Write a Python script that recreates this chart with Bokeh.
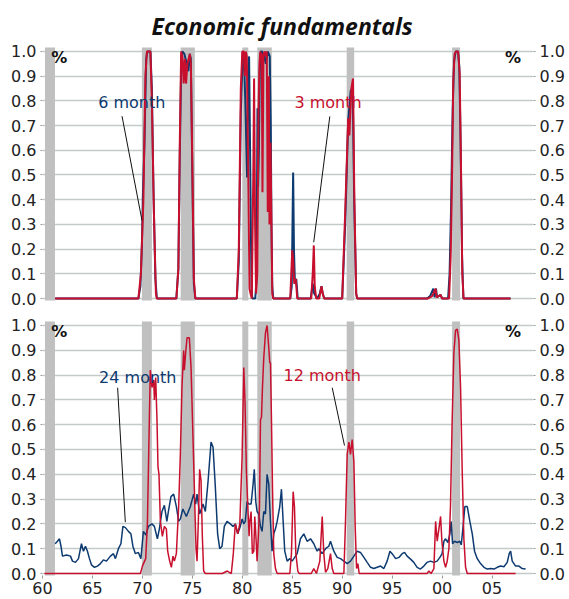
from bokeh.plotting import figure
from bokeh.layouts import column
from bokeh.models import LinearAxis, FixedTicker, PrintfTickFormatter, Label, Range1d
from bokeh.embed import file_html
from bokeh.resources import INLINE

# ---------------- data ----------------
recession_start = [1960.25, 1969.95, 1973.83, 1980.0, 1981.5, 1990.45, 2001.0]
recession_end = [1961.25, 1970.95, 1975.25, 1980.6, 1982.95, 1991.2, 2001.8]

x_ticks = [1960, 1965, 1970, 1975, 1980, 1985, 1990, 1995, 2000, 2005]
x_tick_labels = ["60", "65", "70", "75", "80", "85", "90", "95", "00", "05"]
y_ticks = [0.0, 0.1, 0.2, 0.3, 0.4, 0.5, 0.6, 0.7, 0.8, 0.9, 1.0]

# top panel: 6 month (blue)
m6_x = [1961.27, 1969.6, 1969.8, 1969.95, 1970.05, 1970.2, 1970.38, 1970.5, 1970.8, 1970.95, 1971.1, 1971.3, 1971.45,
        1973.4, 1973.6, 1973.75, 1973.9, 1974.0, 1974.2, 1974.45, 1974.6, 1974.75, 1974.85, 1975.0, 1975.15, 1975.3,
        1979.45, 1979.65, 1979.85, 1980.05, 1980.15, 1980.3, 1980.48, 1980.58, 1980.68, 1980.78, 1980.92, 1981.0,
        1981.3, 1981.42, 1981.52, 1981.58, 1981.66, 1981.75, 1981.85, 1982.0, 1982.1, 1982.2, 1982.35, 1982.55,
        1982.75, 1982.85, 1982.92, 1983.0, 1983.1,
        1984.8, 1984.95, 1985.09, 1985.17, 1985.27, 1985.4, 1985.55,
        1986.85, 1987.05, 1987.2, 1987.5, 1987.75, 1987.93, 1988.05, 1988.2,
        1990.0, 1990.3, 1990.6, 1990.85, 1991.05, 1991.2, 1991.4, 1991.5,
        1998.5, 1998.8, 1999.12, 1999.25, 1999.39, 1999.5, 1999.85, 2000.0,
        2000.6, 2000.75, 2000.9, 2001.06, 2001.2, 2001.36, 2001.6, 2001.72, 2001.85, 2002.0, 2002.13, 2006.85]
m6_y = [0, 0, 0.05, 0.22, 0.42, 0.62, 0.97, 1.0, 1.0, 0.85, 0.45, 0.08, 0,
        0, 0.12, 0.6, 0.98, 1.0, 0.99, 0.95, 0.92, 0.99, 0.97, 0.5, 0.06, 0,
        0, 0.15, 0.75, 1.0, 0.99, 0.8, 0.49, 0.85, 0.98, 0.6, 0.05, 0,
        0, 0.08, 0.77, 0.45, 0.6, 0.92, 1.0, 1.0, 0.96, 0.99, 0.95, 1.0,
        0.98, 0.7, 0.3, 0.05, 0,
        0, 0.05, 0.51, 0.2, 0.06, 0.08, 0,
        0, 0.06, 0.02, 0, 0.02, 0.05, 0.02, 0,
        0, 0.3, 0.72, 0.84, 0.85, 0.4, 0.02, 0,
        0, 0.01, 0.04, 0.005, 0.04, 0.005, 0.015, 0,
        0, 0.1, 0.37, 0.77, 0.96, 1.0, 1.0, 0.94, 0.64, 0.17, 0, 0]

# top panel: 3 month (red)
m3_x = [1961.27, 1969.6, 1969.85, 1969.95, 1970.1, 1970.3, 1970.45, 1970.8, 1970.95, 1971.15, 1971.35, 1971.45,
        1973.4, 1973.6, 1973.75, 1973.88, 1974.0, 1974.13, 1974.25, 1974.37, 1974.5, 1974.75, 1974.85, 1975.0,
        1975.15, 1975.3,
        1979.45, 1979.65, 1979.85, 1980.0, 1980.15, 1980.25, 1980.35, 1980.45, 1980.6, 1980.72, 1980.82, 1980.95,
        1981.1, 1981.18, 1981.28, 1981.38, 1981.5, 1981.62, 1981.72, 1981.8, 1981.95, 1982.02, 1982.12, 1982.25,
        1982.35, 1982.45, 1982.55, 1982.65, 1982.72, 1982.82, 1982.92, 1983.0, 1983.1,
        1984.8, 1985.0, 1985.1, 1985.2, 1985.35, 1985.5,
        1986.9, 1987.05, 1987.16, 1987.25, 1987.4, 1987.7, 1987.93, 1988.05, 1988.2,
        1990.0, 1990.3, 1990.6, 1990.72, 1990.92, 1991.08, 1991.22, 1991.4, 1991.5,
        1998.6, 1999.0, 1999.35, 1999.45, 1999.85, 2000.0,
        2000.7, 2000.86, 2001.0, 2001.12, 2001.25, 2001.39, 2001.6, 2001.76, 2001.9, 2002.02, 2002.15, 2006.85]
m3_y = [0, 0, 0.1, 0.22, 0.4, 0.9, 1.0, 1.0, 0.8, 0.35, 0.02, 0,
        0, 0.12, 0.65, 1.0, 0.98, 0.87, 0.97, 0.87, 0.95, 0.99, 0.95, 0.55,
        0.08, 0,
        0, 0.2, 0.85, 1.0, 1.0, 0.9, 1.0, 0.98, 0.5, 0.04, 0.02, 0,
        0.5, 0.89, 0.3, 0.02, 0.1, 0.76, 0.95, 1.0, 0.98, 0.43, 0.99, 1.0,
        0.98, 1.0, 0.35, 0.9, 0.3, 0.63, 0.3, 0.02, 0,
        0, 0.195, 0.15, 0.06, 0.08, 0,
        0, 0.1, 0.215, 0.05, 0, 0, 0.05, 0.02, 0,
        0, 0.35, 0.73, 0.66, 0.85, 0.89, 0.4, 0.02, 0,
        0, 0.01, 0.04, 0.005, 0.015, 0,
        0, 0.17, 0.51, 0.88, 0.99, 1.0, 1.0, 0.91, 0.51, 0.1, 0, 0]

# bottom panel: 24 month (blue)
m24_x = [1961.27, 1961.5, 1961.7, 1961.85, 1962.0, 1962.4, 1962.8, 1963.0, 1963.3, 1963.6, 1963.9, 1964.1, 1964.3,
         1964.5, 1964.7, 1964.9, 1965.2, 1965.5, 1965.8, 1966.1, 1966.4, 1966.8, 1967.1, 1967.3, 1967.6, 1967.85,
         1968.05, 1968.3, 1968.6, 1968.85, 1969.05, 1969.3, 1969.6, 1969.85, 1970.1, 1970.35, 1970.6, 1970.95,
         1971.2, 1971.5, 1971.7, 1971.96, 1972.2, 1972.45, 1972.6, 1972.86, 1973.13, 1973.4, 1973.63, 1973.8,
         1974.05, 1974.4, 1974.8, 1975.13, 1975.33, 1975.47, 1975.73, 1976.07, 1976.3, 1976.57, 1976.87, 1977.07,
         1977.3, 1977.53, 1977.74, 1977.97, 1978.2, 1978.47, 1978.8, 1979.07, 1979.3, 1979.54, 1979.8, 1979.98,
         1980.15, 1980.3, 1980.48, 1980.65, 1980.88, 1981.08, 1981.2, 1981.35, 1981.48, 1981.65, 1981.82, 1981.98,
         1982.15, 1982.32, 1982.48, 1982.65, 1982.82, 1982.98, 1983.15, 1983.32, 1983.49, 1983.75, 1983.92, 1984.09,
         1984.25, 1984.49, 1984.76, 1984.99, 1985.16, 1985.49, 1985.82, 1986.16, 1986.49, 1986.83, 1987.16, 1987.49,
         1987.66, 1987.99, 1988.33, 1988.66, 1988.83, 1989.16, 1989.5, 1989.83, 1990.17, 1990.5, 1990.83, 1991.17,
         1991.5, 1991.83, 1992.17, 1992.5, 1992.84, 1993.17, 1993.5, 1993.84, 1994.17, 1994.5, 1994.78, 1995.0,
         1995.35, 1995.68, 1996.0, 1996.24, 1996.5, 1996.84, 1997.17, 1997.5, 1997.84, 1998.17, 1998.5, 1998.84,
         1999.17, 1999.5, 1999.78, 2000.0, 2000.18, 2000.35, 2000.58, 2000.78, 2000.91, 2001.05, 2001.25, 2001.52,
         2001.78, 2001.92, 2002.1, 2002.28, 2002.52, 2002.78, 2003.02, 2003.25, 2003.52, 2003.85, 2004.19, 2004.52,
         2004.85, 2005.19, 2005.52, 2005.85, 2006.19, 2006.52, 2006.72, 2006.86, 2007.02, 2007.36, 2007.69, 2008.02,
         2008.36]
m24_y = [0.12, 0.13, 0.14, 0.11, 0.07, 0.075, 0.07, 0.05, 0.045, 0.06, 0.12, 0.09, 0.11,
         0.09, 0.06, 0.035, 0.025, 0.03, 0.04, 0.055, 0.05, 0.07, 0.08, 0.06, 0.1, 0.12,
         0.19, 0.185, 0.17, 0.16, 0.11, 0.08, 0.085, 0.06, 0.17, 0.155, 0.19, 0.2,
         0.19, 0.14, 0.18, 0.25, 0.275, 0.21, 0.25, 0.31, 0.32, 0.27, 0.21, 0.22,
         0.26, 0.23, 0.27, 0.32, 0.28, 0.32, 0.24, 0.28, 0.25, 0.37, 0.53, 0.51,
         0.35, 0.16, 0.1, 0.11, 0.19, 0.21, 0.2, 0.19, 0.2, 0.16, 0.19, 0.22,
         0.2, 0.21, 0.29, 0.28, 0.28, 0.36, 0.42, 0.29, 0.25, 0.24, 0.19, 0.17,
         0.25, 0.24, 0.4, 0.36, 0.21, 0.09, 0.16, 0.18, 0.21, 0.27, 0.34, 0.21,
         0.09, 0.05, 0.06, 0.05, 0.06, 0.08, 0.14, 0.16, 0.13, 0.14, 0.12, 0.09,
         0.1, 0.08, 0.1, 0.11, 0.13, 0.09, 0.065, 0.06, 0.05, 0.04, 0.05, 0.07,
         0.09, 0.085, 0.065, 0.045, 0.025, 0.02, 0.025, 0.03, 0.02, 0.05, 0.09, 0.08,
         0.06, 0.065, 0.08, 0.085, 0.07, 0.058, 0.045, 0.025, 0.018, 0.03, 0.045, 0.05,
         0.045, 0.05, 0.065, 0.08, 0.13, 0.14, 0.125, 0.16, 0.21, 0.12, 0.13, 0.125,
         0.13, 0.115, 0.19, 0.27, 0.27, 0.21, 0.16, 0.09, 0.06, 0.04, 0.025, 0.018,
         0.02, 0.018, 0.025, 0.03, 0.027, 0.045, 0.08, 0.09, 0.05, 0.03, 0.03, 0.02,
         0.018]

# bottom panel: 12 month (red)
m12_x = [1960.2, 1969.8, 1970.0, 1970.33, 1970.5, 1970.63, 1970.79, 1970.96, 1971.13, 1971.2, 1971.33, 1971.46,
         1971.56, 1971.66, 1971.8, 1972.0, 1972.2, 1972.4, 1972.53, 1972.73, 1972.9, 1973.06, 1973.2, 1973.4,
         1973.63, 1973.8, 1973.96, 1974.13, 1974.2, 1974.33, 1974.47, 1974.7, 1974.87, 1975.0, 1975.13, 1975.27,
         1975.37, 1975.47, 1975.6, 1975.73, 1975.87, 1976.0, 1976.13, 1976.3, 1978.0, 1978.5, 1978.9, 1979.1,
         1979.3, 1979.54, 1979.75, 1979.98, 1980.15, 1980.28, 1980.41, 1980.55, 1980.68, 1980.75, 1980.88, 1981.01,
         1981.15, 1981.25, 1981.35, 1981.48, 1981.62, 1981.72, 1981.82, 1981.92, 1982.02, 1982.15, 1982.32, 1982.48,
         1982.65, 1982.75, 1982.82, 1982.92, 1983.02, 1983.15, 1983.32, 1983.49, 1984.76, 1984.92, 1985.09, 1985.22,
         1985.36, 1985.56, 1985.7, 1986.9, 1987.16, 1987.42, 1987.76, 1988.0, 1988.16, 1988.33, 1988.56, 1988.83,
         1989.0, 1989.16, 1990.17, 1990.33, 1990.5, 1990.67, 1990.83, 1991.0, 1991.17, 1991.3, 1991.44, 1991.57,
         1991.7, 1998.5, 1998.68, 1998.9, 1999.18, 1999.35, 1999.51, 1999.68, 1999.85, 1999.98, 2000.18, 2000.35,
         2000.51, 2000.68, 2000.84, 2001.01, 2001.18, 2001.35, 2001.52, 2001.68, 2001.85, 2002.01, 2002.18, 2002.35,
         2002.52, 2007.36]
m12_y = [0, 0, 0.03, 0.06, 0.2, 0.48, 0.82, 0.75, 0.78, 0.7, 0.79, 0.62,
         0.43, 0.4, 0.21, 0.15, 0.19, 0.18, 0.09, 0.05, 0.025, 0.07, 0.05, 0.08,
         0.27, 0.48, 0.75, 0.9, 0.82, 0.89, 0.95, 0.95, 0.83, 0.64, 0.45, 0.24,
         0.1, 0.05, 0.21, 0.42, 0.375, 0.15, 0.01, 0, 0, 0.01, 0, 0.08,
         0.2, 0.16, 0.2, 0.47, 0.83, 0.68, 0.41, 0.27, 0.15, 0.21, 0.25, 0.08,
         0.09, 0.23, 0.16, 0.05, 0.16, 0.27, 0.62, 0.63, 0.75, 0.87, 0.97, 1.0,
         0.91, 0.85, 0.85, 0.62, 0.35, 0.08, 0.02, 0, 0, 0.08, 0.33, 0.27,
         0.08, 0.01, 0, 0, 0.02, 0, 0.05, 0.23, 0.08, 0.005, 0.02, 0.08,
         0.02, 0, 0, 0.21, 0.48, 0.53, 0.48, 0.54, 0.45, 0.19, 0.02, 0.04,
         0, 0, 0.01, 0, 0.02, 0.21, 0.13, 0.18, 0.23, 0.13, 0.05, 0.025,
         0.05, 0.1, 0.27, 0.62, 0.89, 0.98, 0.985, 0.94, 0.75, 0.42, 0.14, 0.025,
         0, 0]

# ---------------- styling ----------------
BLUE = "#0d3a70"
RED = "#c8102e"
BAND = "#c0c0c0"
GRID = "#c3cbcb"
FONT = "DejaVu Sans"
W = 569

x_range = Range1d(1960, 2009.15)


def style_axis(ax):
    ax.ticker = FixedTicker(ticks=y_ticks)
    ax.formatter = PrintfTickFormatter(format="%.1f")
    ax.axis_line_color = None
    ax.major_tick_in = 0
    ax.major_tick_out = 2
    ax.major_tick_line_color = "#999999"
    ax.minor_tick_line_color = None
    ax.major_label_text_font = FONT
    ax.major_label_text_font_size = "16px"
    ax.major_label_text_color = "#222222"
    ax.major_label_standoff = 4


def make_panel(height, top, bottom, with_x):
    p = figure(width=W, height=height, x_range=x_range, y_range=Range1d(-0.008, 1.016),
               output_backend="svg", toolbar_location=None,
               x_axis_location="below" if with_x else None,
               min_border_left=42, min_border_right=36, min_border_top=top, min_border_bottom=bottom)
    p.outline_line_color = None
    p.background_fill_color = "white"
    p.border_fill_color = "white"
    p.xgrid.visible = False
    p.ygrid.grid_line_color = GRID
    p.ygrid.grid_line_width = 1.5
    style_axis(p.yaxis[0])
    right = LinearAxis()
    style_axis(right)
    p.add_layout(right, "right")
    p.quad(left=recession_start, right=recession_end, bottom=-0.1, top=1.1,
           fill_color=BAND, line_color=None)
    if with_x:
        ax = p.xaxis[0]
        ax.ticker = FixedTicker(ticks=x_ticks)
        ax.major_label_overrides = dict(zip(x_ticks, x_tick_labels))
        ax.axis_line_color = None
        ax.major_tick_in = 0
        ax.major_tick_out = 3
        ax.major_tick_line_color = "#999999"
        ax.minor_tick_line_color = None
        ax.major_label_text_font = FONT
        ax.major_label_text_font_size = "16px"
        ax.major_label_text_color = "#222222"
        ax.major_label_standoff = 3
    for xx in (1961.69, 2007.11):
        p.add_layout(Label(x=xx, y=0.975, text="%", text_font=FONT, text_font_style="bold",
                           text_font_size="16px", text_color="#111111",
                           text_align="center", text_baseline="middle"))
    return p


def annotate(p, text, color, tx, ty, x0, y0, x1, y1):
    p.segment(x0=[x0], y0=[y0], x1=[x1], y1=[y1], line_color="#111111", line_width=1)
    p.add_layout(Label(x=tx, y=ty, text=text, text_color=color, text_font=FONT,
                       text_font_size="16px", text_align="center", text_baseline="middle"))


# top panel
p1 = make_panel(310, 47, 10, False)
p1.title.text = "Economic fundamentals"
p1.title.text_font = "Open Sans"
p1.title.text_font_style = "bold italic"
p1.title.text_font_size = "23px"
p1.title.text_color = "#111111"
p1.title.align = "left"
p1.title.offset = 109
p1.title.standoff = 12
p1.line(m6_x, m6_y, line_color=BLUE, line_width=2)
p1.line(m3_x, m3_y, line_color=RED, line_width=2)
annotate(p1, "6 month", BLUE, 1968.94, 0.795, 1967.96, 0.738, 1969.96, 0.316)
annotate(p1, "3 month", RED, 1988.58, 0.795, 1988.76, 0.737, 1987.15, 0.228)

# bottom panel
p2 = make_panel(289, 11, 24, True)
p2.line(m24_x, m24_y, line_color=BLUE, line_width=1.5)
p2.line(m12_x, m12_y, line_color=RED, line_width=1.5)
annotate(p2, "24 month", BLUE, 1969.54, 0.79, 1967.52, 0.749, 1968.29, 0.207)
annotate(p2, "12 month", RED, 1988.0, 0.798, 1989.0, 0.749, 1990.23, 0.516)

layout = column(p1, p2, spacing=0)
open("out.html", "w").write(file_html(layout, INLINE))
